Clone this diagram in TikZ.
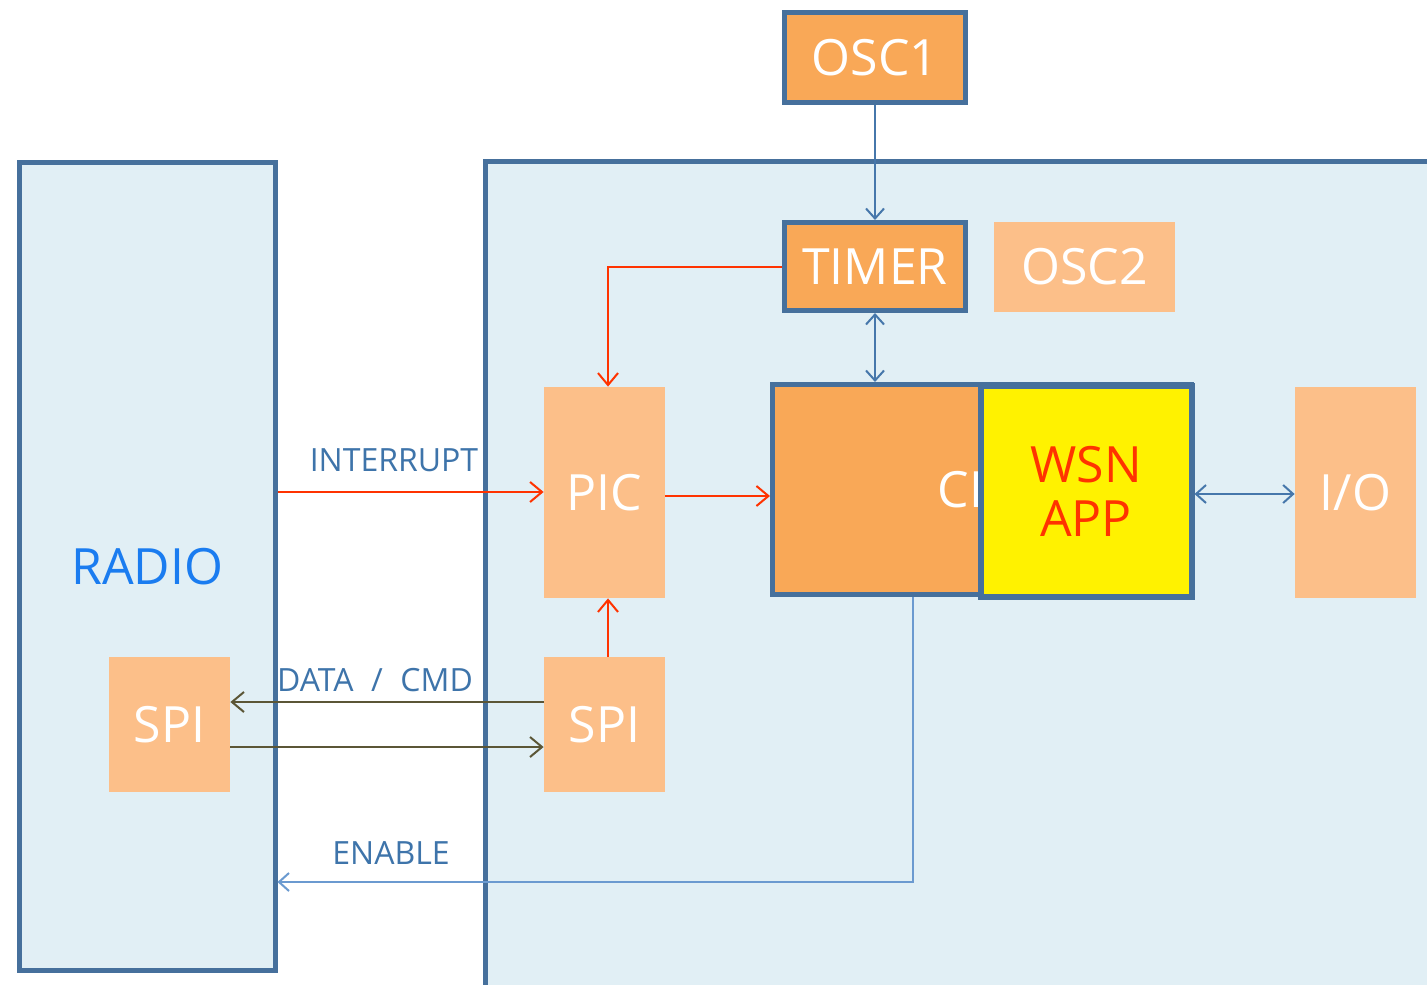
\documentclass[tikz,border=0pt]{standalone}
\usepackage{fontspec}
\setmainfont{Open Sans}
\usepackage{tikz}
\usepackage{xcolor}
\usetikzlibrary{arrows.meta,positioning,calc}
\definecolor{edgeblue}{HTML}{46709C}
\definecolor{mcufill}{HTML}{E1EFF5}
\definecolor{orgdark}{HTML}{F9A857}
\definecolor{orglight}{HTML}{FCBF89}
\definecolor{sigred}{HTML}{FF3300}
\definecolor{lblblue}{HTML}{3E74AA}
\definecolor{radioblue}{HTML}{1A7CF0}
\definecolor{busolive}{HTML}{5B5636}
\definecolor{enblue}{HTML}{6B9AD0}
\definecolor{linkblue}{HTML}{4677AB}
\tikzset{
  board/.style ={rectangle, draw=edgeblue, line width=2.5pt, fill=mcufill, inner sep=0pt},
  unit/.style  ={rectangle, draw=edgeblue, line width=2.5pt, fill=orgdark, text=white,
                 inner sep=0pt, font=\fontsize{25}{27}\selectfont},
  part/.style  ={rectangle, fill=orglight, text=white, inner sep=0pt,
                 font=\fontsize{25}{27}\selectfont},
  app/.style   ={rectangle, draw=edgeblue, line width=3pt, fill=yellow, text=sigred,
                 inner sep=0pt, align=center, font=\fontsize{25}{27}\selectfont},
  lbl/.style   ={text=lblblue, inner sep=0pt, font=\fontsize{16}{18}\selectfont},
  irq/.style   ={-{Straight Barb[length=6pt,width=10pt]}, line width=1pt, draw=sigred},
  bus/.style   ={-{Straight Barb[length=6pt,width=10pt]}, line width=1pt, draw=busolive},
  lnk/.style   ={-{Straight Barb[length=5pt,width=9pt]}, line width=1pt, draw=linkblue},
  lnk2/.style  ={{Straight Barb[length=5pt,width=9pt]}-{Straight Barb[length=5pt,width=9pt]},
                 line width=1pt, draw=linkblue},
  en/.style    ={-{Straight Barb[length=5pt,width=9pt]}, line width=1pt, draw=enblue},
}

\begin{document}
\begin{tikzpicture}[x=0.5pt,y=-0.5pt]
\clip (0,0) rectangle (1427,984);
\fill[white] (0,0) rectangle (1427,984);

% boards
\node[board, minimum width=127.75pt, minimum height=403.75pt, text=radioblue,
      font=\fontsize{25}{27}\selectfont] (radio) at (147.25,566.25) {RADIO};
\node[board, minimum width=490pt, minimum height=429pt] (mcu) at (975,591) {};

% blocks
\node[unit, minimum width=90.5pt, minimum height=45pt] (osc1) at (875,57.5) {OSC1};
\node[unit, minimum width=90.5pt, minimum height=44pt] (timer) at (875,266.5) {TIMER};
\node[part, minimum width=90.5pt, minimum height=45pt] (osc2) at (1084.5,267) {OSC2};
\node[part, minimum width=60.5pt, minimum height=105.5pt] (pic) at (604.5,492.5) {PIC};
\node[unit, minimum width=209.5pt, minimum height=105pt] (cpu) at (982,489.5) {\hspace{5pt}CPU};
\node[app, minimum width=105.5pt, minimum height=105.5pt] (wsn) at (1086,491) {WSN\\APP};
\node[part, minimum width=60.5pt, minimum height=105.5pt] (io) at (1355.5,492.5) {I/O};
\node[part, minimum width=60.5pt, minimum height=67.5pt] (spir) at (169.5,724.5) {SPI};
\node[part, minimum width=60.5pt, minimum height=67.5pt] (spim) at (604.5,724.5) {SPI};

% labels
\node[lbl] (lint) at (394,460) {INTERRUPT};
\node[lbl] (lbus) at (375,680) {DATA\hspace{0.55em}/\hspace{0.55em}CMD};
\node[lbl] (lena) at (391,853) {ENABLE};
\coordinate (enk) at (913,882);

% connections
\draw[lnk] (osc1.south) -- (timer.north);
\draw[lnk2] (timer.south) -- (timer.south |- cpu.north);
\draw[irq] (timer.west) -| ([xshift=1.75pt]pic.north);
\draw[irq] (radio.east |- 0,492) -- (pic.west |- 0,492);
\draw[irq] (pic.east |- 0,496) -- (cpu.west |- 0,496);
\draw[irq] ([xshift=1.75pt]spim.north) -- ([xshift=1.75pt]pic.south);
\draw[bus] ([yshift=11.25pt]spim.west) -- ([yshift=11.25pt]spir.east);
\draw[bus] ([yshift=-11.25pt]spir.east) -- ([yshift=-11.25pt]spim.west);
\draw[en] (cpu.south -| enk) -- (enk) -- (radio.east |- enk);
\draw[lnk2] (wsn.east |- 0,494) -- (io.west |- 0,494);
\end{tikzpicture}
\end{document}
